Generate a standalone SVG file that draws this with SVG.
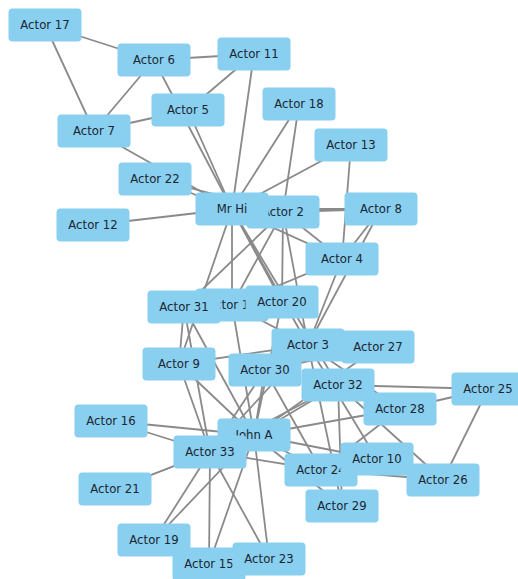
<svg xmlns="http://www.w3.org/2000/svg" width="518" height="579" viewBox="0 0 518 579">
<style>
.e{stroke:#8a8a8a;stroke-width:1.8;fill:none}
.n rect{fill:#89cff0;rx:4;ry:4}
.n text{font-family:"DejaVu Sans",sans-serif;font-size:11.7px;fill:#1c2530;text-anchor:middle}
</style>
<rect width="518" height="579" fill="#fff"/>
<g id="edges" class="e">
<line x1="232" y1="209" x2="283" y2="212"/>
<line x1="232" y1="209" x2="308" y2="345"/>
<line x1="232" y1="209" x2="342" y2="259"/>
<line x1="232" y1="209" x2="188" y2="110"/>
<line x1="232" y1="209" x2="154" y2="60"/>
<line x1="232" y1="209" x2="94" y2="131"/>
<line x1="232" y1="209" x2="381" y2="209"/>
<line x1="232" y1="209" x2="179" y2="364"/>
<line x1="232" y1="209" x2="254" y2="54"/>
<line x1="232" y1="209" x2="93" y2="225"/>
<line x1="232" y1="209" x2="351" y2="145"/>
<line x1="232" y1="209" x2="232" y2="305"/>
<line x1="232" y1="209" x2="299" y2="104"/>
<line x1="232" y1="209" x2="282" y2="302"/>
<line x1="232" y1="209" x2="155" y2="179"/>
<line x1="232" y1="209" x2="338" y2="385"/>
<line x1="283" y1="212" x2="308" y2="345"/>
<line x1="283" y1="212" x2="342" y2="259"/>
<line x1="283" y1="212" x2="381" y2="209"/>
<line x1="283" y1="212" x2="232" y2="305"/>
<line x1="283" y1="212" x2="299" y2="104"/>
<line x1="283" y1="212" x2="282" y2="302"/>
<line x1="283" y1="212" x2="155" y2="179"/>
<line x1="283" y1="212" x2="184" y2="307"/>
<line x1="308" y1="345" x2="342" y2="259"/>
<line x1="308" y1="345" x2="381" y2="209"/>
<line x1="308" y1="345" x2="179" y2="364"/>
<line x1="308" y1="345" x2="377" y2="459"/>
<line x1="308" y1="345" x2="232" y2="305"/>
<line x1="308" y1="345" x2="400" y2="409"/>
<line x1="308" y1="345" x2="342" y2="506"/>
<line x1="308" y1="345" x2="210" y2="452"/>
<line x1="342" y1="259" x2="381" y2="209"/>
<line x1="342" y1="259" x2="351" y2="145"/>
<line x1="342" y1="259" x2="232" y2="305"/>
<line x1="188" y1="110" x2="94" y2="131"/>
<line x1="188" y1="110" x2="254" y2="54"/>
<line x1="154" y1="60" x2="94" y2="131"/>
<line x1="154" y1="60" x2="254" y2="54"/>
<line x1="154" y1="60" x2="45" y2="25"/>
<line x1="94" y1="131" x2="45" y2="25"/>
<line x1="179" y1="364" x2="184" y2="307"/>
<line x1="179" y1="364" x2="210" y2="452"/>
<line x1="179" y1="364" x2="254" y2="435"/>
<line x1="377" y1="459" x2="254" y2="435"/>
<line x1="232" y1="305" x2="254" y2="435"/>
<line x1="209" y1="564" x2="210" y2="452"/>
<line x1="209" y1="564" x2="254" y2="435"/>
<line x1="111" y1="421" x2="210" y2="452"/>
<line x1="111" y1="421" x2="254" y2="435"/>
<line x1="154" y1="540" x2="210" y2="452"/>
<line x1="154" y1="540" x2="254" y2="435"/>
<line x1="282" y1="302" x2="254" y2="435"/>
<line x1="115" y1="489" x2="210" y2="452"/>
<line x1="115" y1="489" x2="254" y2="435"/>
<line x1="269" y1="559" x2="210" y2="452"/>
<line x1="269" y1="559" x2="254" y2="435"/>
<line x1="321" y1="470" x2="443" y2="480"/>
<line x1="321" y1="470" x2="400" y2="409"/>
<line x1="321" y1="470" x2="265" y2="370"/>
<line x1="321" y1="470" x2="210" y2="452"/>
<line x1="321" y1="470" x2="254" y2="435"/>
<line x1="488" y1="389" x2="443" y2="480"/>
<line x1="488" y1="389" x2="400" y2="409"/>
<line x1="488" y1="389" x2="338" y2="385"/>
<line x1="443" y1="480" x2="338" y2="385"/>
<line x1="378" y1="347" x2="265" y2="370"/>
<line x1="378" y1="347" x2="254" y2="435"/>
<line x1="400" y1="409" x2="254" y2="435"/>
<line x1="342" y1="506" x2="338" y2="385"/>
<line x1="342" y1="506" x2="254" y2="435"/>
<line x1="265" y1="370" x2="210" y2="452"/>
<line x1="265" y1="370" x2="254" y2="435"/>
<line x1="184" y1="307" x2="210" y2="452"/>
<line x1="184" y1="307" x2="254" y2="435"/>
<line x1="338" y1="385" x2="210" y2="452"/>
<line x1="338" y1="385" x2="254" y2="435"/>
<line x1="210" y1="452" x2="254" y2="435"/>
</g>
<g id="nodes">
<g id="actor2" class="n"><rect x="246.5" y="195.5" width="73" height="33"/><text x="283" y="216.2">Actor 2</text></g>
<g id="actor14" class="n"><rect x="195.5" y="288.5" width="73" height="33"/><text x="232" y="309.2">Actor 14</text></g>
<g id="actor24" class="n"><rect x="284.5" y="453.5" width="73" height="33"/><text x="321" y="474.2">Actor 24</text></g>
<g id="johnA" class="n"><rect x="217.5" y="418.5" width="73" height="33"/><text x="254" y="439.2">John A</text></g>
<g id="mrHi" class="n"><rect x="195.5" y="192.5" width="73" height="33"/><text x="232" y="213.2">Mr Hi</text></g>
<g id="actor3" class="n"><rect x="271.5" y="328.5" width="73" height="33"/><text x="308" y="349.2">Actor 3</text></g>
<g id="actor4" class="n"><rect x="305.5" y="242.5" width="73" height="33"/><text x="342" y="263.2">Actor 4</text></g>
<g id="actor5" class="n"><rect x="151.5" y="93.5" width="73" height="33"/><text x="188" y="114.2">Actor 5</text></g>
<g id="actor6" class="n"><rect x="117.5" y="43.5" width="73" height="33"/><text x="154" y="64.2">Actor 6</text></g>
<g id="actor7" class="n"><rect x="57.5" y="114.5" width="73" height="33"/><text x="94" y="135.2">Actor 7</text></g>
<g id="actor8" class="n"><rect x="344.5" y="192.5" width="73" height="33"/><text x="381" y="213.2">Actor 8</text></g>
<g id="actor9" class="n"><rect x="142.5" y="347.5" width="73" height="33"/><text x="179" y="368.2">Actor 9</text></g>
<g id="actor11" class="n"><rect x="217.5" y="37.5" width="73" height="33"/><text x="254" y="58.2">Actor 11</text></g>
<g id="actor12" class="n"><rect x="56.5" y="208.5" width="73" height="33"/><text x="93" y="229.2">Actor 12</text></g>
<g id="actor13" class="n"><rect x="314.5" y="128.5" width="73" height="33"/><text x="351" y="149.2">Actor 13</text></g>
<g id="actor15" class="n"><rect x="172.5" y="547.5" width="73" height="33"/><text x="209" y="568.2">Actor 15</text></g>
<g id="actor16" class="n"><rect x="74.5" y="404.5" width="73" height="33"/><text x="111" y="425.2">Actor 16</text></g>
<g id="actor17" class="n"><rect x="8.5" y="8.5" width="73" height="33"/><text x="45" y="29.2">Actor 17</text></g>
<g id="actor18" class="n"><rect x="262.5" y="87.5" width="73" height="33"/><text x="299" y="108.2">Actor 18</text></g>
<g id="actor19" class="n"><rect x="117.5" y="523.5" width="73" height="33"/><text x="154" y="544.2">Actor 19</text></g>
<g id="actor20" class="n"><rect x="245.5" y="285.5" width="73" height="33"/><text x="282" y="306.2">Actor 20</text></g>
<g id="actor21" class="n"><rect x="78.5" y="472.5" width="73" height="33"/><text x="115" y="493.2">Actor 21</text></g>
<g id="actor22" class="n"><rect x="118.5" y="162.5" width="73" height="33"/><text x="155" y="183.2">Actor 22</text></g>
<g id="actor23" class="n"><rect x="232.5" y="542.5" width="73" height="33"/><text x="269" y="563.2">Actor 23</text></g>
<g id="actor25" class="n"><rect x="451.5" y="372.5" width="73" height="33"/><text x="488" y="393.2">Actor 25</text></g>
<g id="actor26" class="n"><rect x="406.5" y="463.5" width="73" height="33"/><text x="443" y="484.2">Actor 26</text></g>
<g id="actor27" class="n"><rect x="341.5" y="330.5" width="73" height="33"/><text x="378" y="351.2">Actor 27</text></g>
<g id="actor28" class="n"><rect x="363.5" y="392.5" width="73" height="33"/><text x="400" y="413.2">Actor 28</text></g>
<g id="actor29" class="n"><rect x="305.5" y="489.5" width="73" height="33"/><text x="342" y="510.2">Actor 29</text></g>
<g id="actor30" class="n"><rect x="228.5" y="353.5" width="73" height="33"/><text x="265" y="374.2">Actor 30</text></g>
<g id="actor31" class="n"><rect x="147.5" y="290.5" width="73" height="33"/><text x="184" y="311.2">Actor 31</text></g>
<g id="actor32" class="n"><rect x="301.5" y="368.5" width="73" height="33"/><text x="338" y="389.2">Actor 32</text></g>
<g id="actor33" class="n"><rect x="173.5" y="435.5" width="73" height="33"/><text x="210" y="456.2">Actor 33</text></g>
<g id="actor10" class="n"><rect x="340.5" y="442.5" width="73" height="33"/><text x="377" y="463.2">Actor 10</text></g>
</g>
</svg>
